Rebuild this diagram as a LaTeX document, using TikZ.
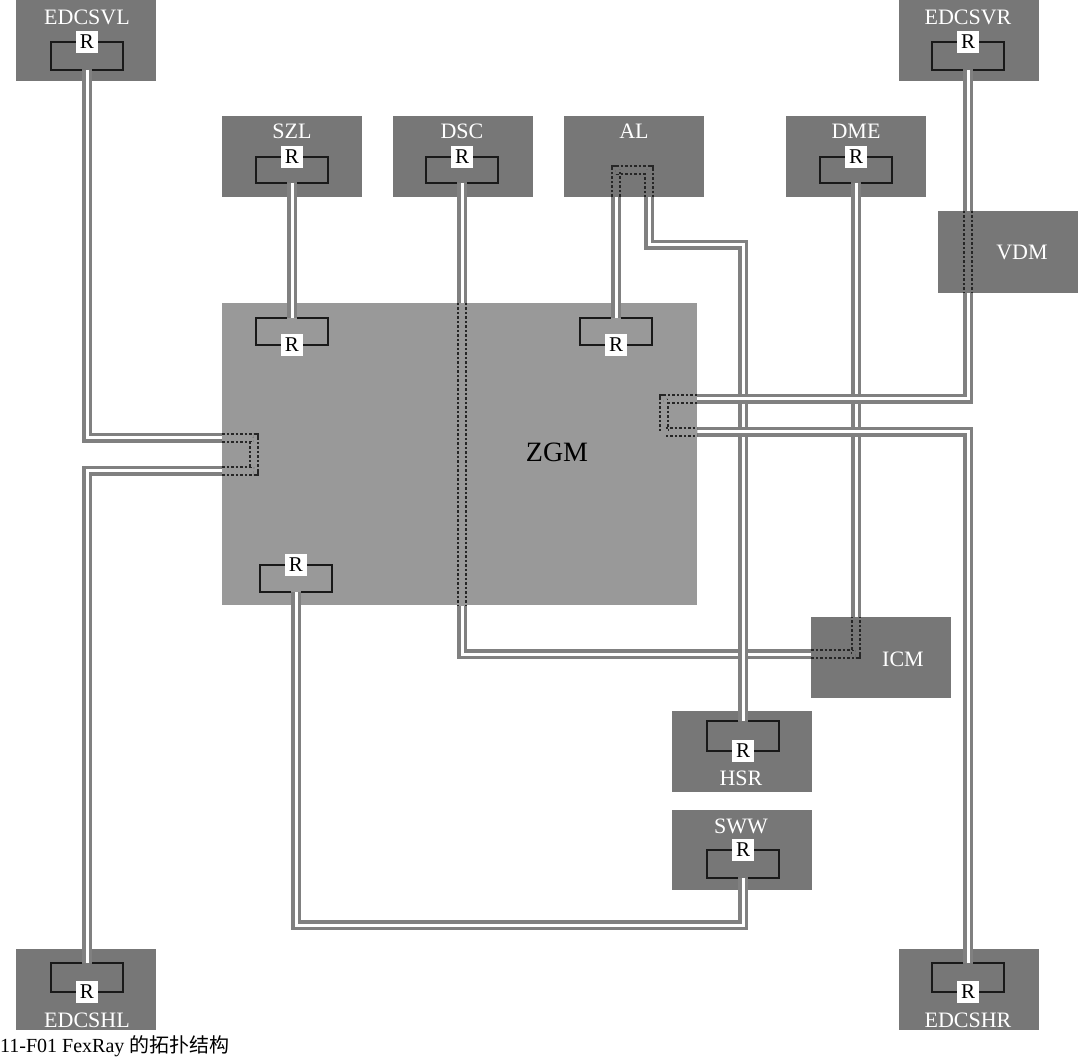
\documentclass[tikz,border=0pt]{standalone}
\usepackage{fontspec}
\setmainfont{Liberation Serif}
\newfontfamily\cjk{Noto Sans CJK SC}
\usetikzlibrary{fit}
\definecolor{boxc}{HTML}{777777}
\definecolor{zgmc}{HTML}{999999}
\definecolor{linec}{HTML}{808080}
\tikzset{
  ecu/.style={fill=boxc, draw=none, inner sep=0pt},
  lbl/.style={text=white, font=\fontsize{22}{24}\selectfont, inner sep=0pt},
  rnode/.style={fill=white, text=black, font=\fontsize{21}{22}\selectfont, inner sep=1.5pt, minimum width=22pt, minimum height=22pt},
  conn/.style={draw=linec, line width=3.5pt, double=white, double distance=3pt},
  dotc/.style={draw=black!85, line width=1.3pt, double=#1, double distance=6.5pt, dash pattern=on 2.5pt off 2pt},
  brk/.style={draw=black!90, line width=1.3pt}
}
\newcommand\rbrk[4]{% name, cx, ry, bracket y
  \draw[brk] ({#2-5},#4) -- ({#2-36},#4) -- ({#2-36},#3) -- ({#2-11},#3);
  \draw[brk] ({#2+5},#4) -- ({#2+36},#4) -- ({#2+36},#3) -- ({#2+11},#3);
  \node[rnode] (#1) at (#2,#3) {R};
}
\begin{document}
\begin{tikzpicture}[x=1pt,y=-1pt]
\useasboundingbox (0,0) rectangle (1080,1059);
% boxes
\node[ecu, fit={(16,0) (156,81)}] (edcsvl) {};
\node[ecu, fit={(899,0) (1039,81)}] (edcsvr) {};
\node[ecu, fit={(222,116) (362,197)}] (szl) {};
\node[ecu, fit={(393,116) (533,197)}] (dsc) {};
\node[ecu, fit={(564,116) (704,197)}] (al) {};
\node[ecu, fit={(786,116) (926,197)}] (dme) {};
\node[ecu, fit={(938,211) (1078,293)}] (vdm) {};
\node[ecu, fill=zgmc, fit={(222,303) (697,605)}] (zgm) {};
\node[ecu, fit={(811,617) (951,698)}] (icm) {};
\node[ecu, fit={(672,711) (812,792)}] (hsr) {};
\node[ecu, fit={(672,810) (812,890)}] (sww) {};
\node[ecu, fit={(16,949) (156,1030)}] (edcshl) {};
\node[ecu, fit={(899,949) (1039,1030)}] (edcshr) {};
% labels
\node[lbl] (t1) at (87,17) {EDCSVL};
\node[lbl] (t2) at (968,17) {EDCSVR};
\node[lbl] (t3) at (292,131) {SZL};
\node[lbl] (t4) at (462,131) {DSC};
\node[lbl] (t5) at (634,131) {AL};
\node[lbl] (t6) at (856,131) {DME};
\node[lbl] (t7) at (1022,252) {VDM};
\node[lbl, text=black, font=\fontsize{28}{30}\selectfont] (t8) at (557,452) {ZGM};
\node[lbl] (t9) at (903,659) {ICM};
\node[lbl] (t10) at (741,778) {HSR};
\node[lbl] (t11) at (741,826) {SWW};
\node[lbl] (t12) at (87,1020) {EDCSHL};
\node[lbl] (t13) at (968,1020) {EDCSHR};
\node[anchor=base west, inner sep=0pt, font=\fontsize{20}{22}\selectfont] (cap) at (0,1052) {11-F01 FexRay {\cjk 的拓扑结构}};
% solid connectors
\draw[conn] (87,70) -- (87,438) -- (zgm.west |- 0,438);
\draw[conn] (zgm.west |- 0,471) -- (87,471) -- (87,963);
\draw[conn] (292,183) -- (292,318);
\draw[conn] (462,183) -- (462,303);
\draw[conn] (462,605) -- (462,654) -- (811,654);
\draw[conn] (856,183) -- (856,617);
\draw[conn] (616,197) -- (616,318);
\draw[conn] (649,197) -- (649,245) -- (743,245) -- (743,721);
\draw[conn] (968,70) -- (968,211);
\draw[conn] (968,293) -- (968,399) -- (697,399);
\draw[conn] (697,432) -- (968,432) -- (968,963);
\draw[conn] (296,592) -- (296,925) -- (743,925) -- (743,878);
% dotted parts
\draw[dotc=zgmc] (222,438) -- (254,438) -- (254,471) -- (222,471);
\draw[dotc=zgmc] (462,303) -- (462,605);
\draw[dotc=zgmc] (697,399) -- (664,399) -- (664,432) -- (697,432);
\draw[dotc=boxc] (616,197) -- (616,170) -- (649,170) -- (649,197);
\draw[dotc=boxc] (968,211) -- (968,293);
\draw[dotc=boxc] (811,654) -- (856,654) -- (856,617);
% R brackets
\rbrk{r1}{87}{42}{70}
\rbrk{r2}{968}{42}{70}
\rbrk{r3}{292}{157}{183}
\rbrk{r4}{462}{157}{183}
\rbrk{r5}{856}{157}{183}
\rbrk{r6}{292}{345}{318}
\rbrk{r7}{616}{345}{318}
\rbrk{r8}{296}{565}{592}
\rbrk{r9}{743}{751}{721}
\rbrk{r10}{743}{850}{878}
\rbrk{r11}{87}{992}{963}
\rbrk{r12}{968}{992}{963}
\end{tikzpicture}
\end{document}
